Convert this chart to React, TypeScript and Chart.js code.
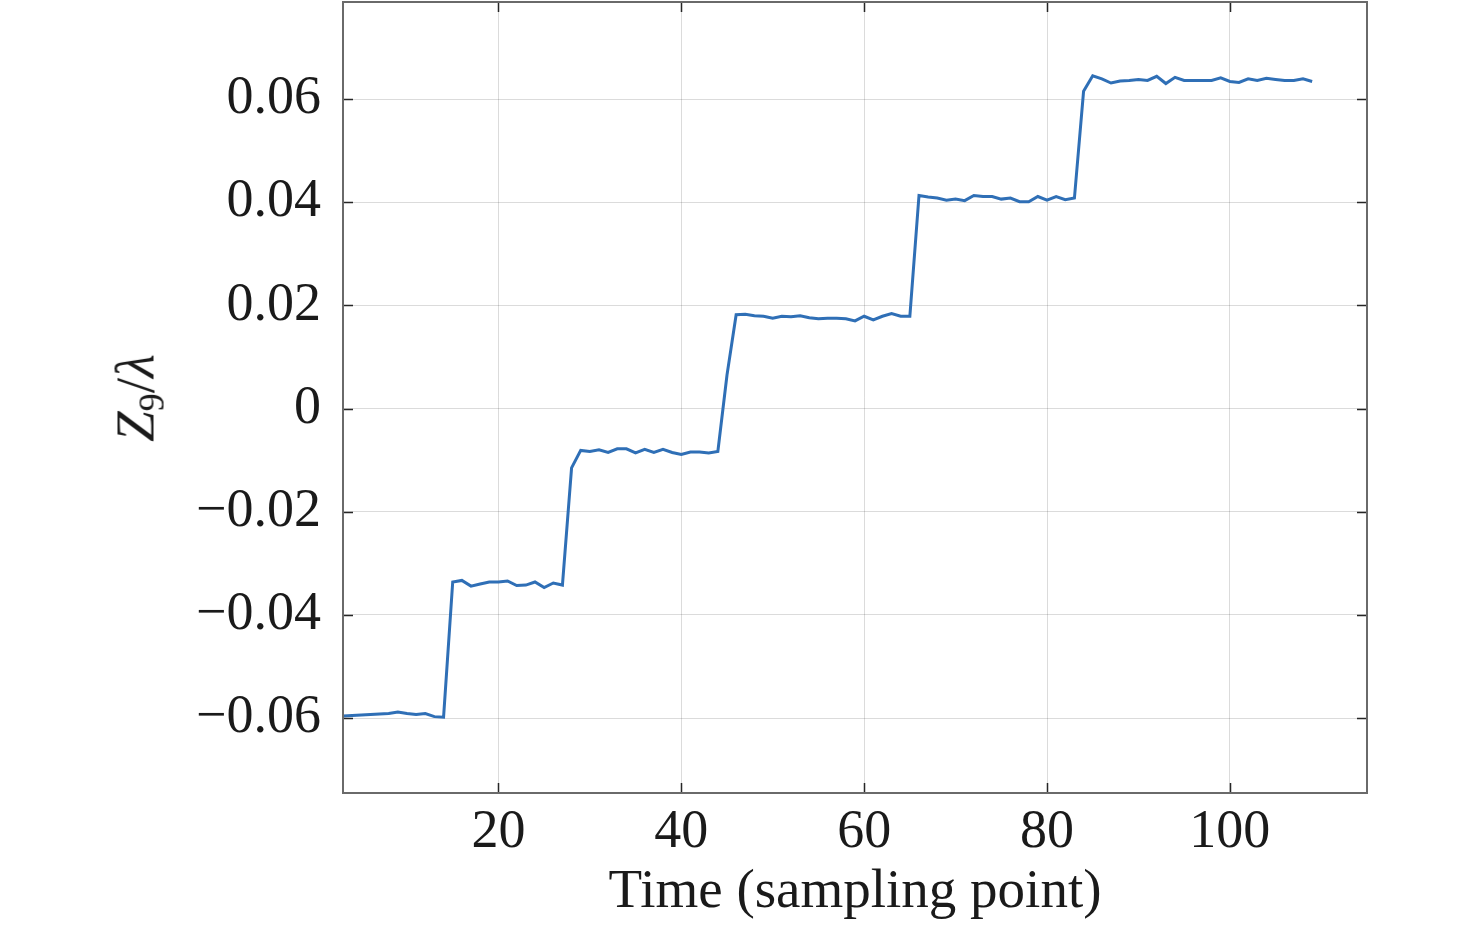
import { useEffect, useRef } from 'react';
import { Chart, registerables } from 'chart.js';

Chart.register(...registerables);

// sample index (x) and Z9/lambda reading (y)
const samplePoints = [
  3, 4, 5, 6, 7, 8, 9, 10, 11, 12, 13, 14, 15, 16, 17, 18, 19, 20,
  21, 22, 23, 24, 25, 26, 27, 28, 29, 30, 31, 32, 33, 34, 35, 36, 37, 38, 39, 40,
  41, 42, 43, 44, 45, 46, 47, 48, 49, 50, 51, 52, 53, 54, 55, 56, 57, 58, 59, 60,
  61, 62, 63, 64, 65, 66, 67, 68, 69, 70, 71, 72, 73, 74, 75, 76, 77, 78, 79, 80,
  81, 82, 83, 84, 85, 86, 87, 88, 89, 90, 91, 92, 93, 94, 95, 96, 97, 98, 99, 100,
  101, 102, 103, 104, 105, 106, 107, 108, 109,
];

const zValues = [
  -0.0596, -0.0595, -0.0594, -0.0593, -0.0592, -0.0591, -0.0588, -0.0591, -0.0593, -0.0591, -0.0597, -0.0598,
  -0.0336, -0.0333, -0.0344, -0.034, -0.0336, -0.0336, -0.0334, -0.0343, -0.0342, -0.0336, -0.0347, -0.0338, -0.0342,
  -0.0115, -0.0081, -0.0083, -0.008, -0.0085, -0.0078, -0.0078, -0.0086, -0.0079, -0.0085, -0.0079, -0.0085, -0.0089,
  -0.0084, -0.0084, -0.0086, -0.0083,
  0.0065, 0.0182, 0.0183, 0.018, 0.0179, 0.0175, 0.0179, 0.0178, 0.018, 0.0176, 0.0174, 0.0175, 0.0175, 0.0174,
  0.017, 0.0179, 0.0172, 0.0179, 0.0184, 0.0179, 0.0179,
  0.0413, 0.041, 0.0408, 0.0404, 0.0406, 0.0403, 0.0413, 0.0411, 0.0411, 0.0406, 0.0408, 0.0401, 0.0401, 0.0411,
  0.0404, 0.0411, 0.0405, 0.0408,
  0.0615, 0.0645, 0.0639, 0.0631, 0.0635, 0.0636, 0.0638, 0.0636, 0.0644, 0.063, 0.0642, 0.0636, 0.0636, 0.0636,
  0.0636, 0.0641, 0.0634, 0.0632, 0.0639, 0.0636, 0.064, 0.0638, 0.0636, 0.0636, 0.0639, 0.0634,
];

const xTicks = [20, 40, 60, 80, 100];
const yTicks = [-0.06, -0.04, -0.02, 0, 0.02, 0.04, 0.06];

const FONT = '"Liberation Serif", "Times New Roman", serif';
const LINE_COLOR = '#2f6fb6';

const fmtY = (v: number) => (v === 0 ? '0' : (v < 0 ? '\u2212' : '') + Math.abs(v).toFixed(2));

// MATLAB-style box with ticks pointing inward on all four sides
const boxPlugin = {
  id: 'box',
  afterDatasetsDraw(chart: any) {
    const { ctx, chartArea, scales } = chart;
    const { left, right, top, bottom } = chartArea;
    const len = 10;
    ctx.save();
    ctx.strokeStyle = '#262626';
    ctx.lineWidth = 1.5;
    ctx.beginPath();
    xTicks.forEach((v) => {
      const px = Math.round(scales.x.getPixelForValue(v)) + 0.5;
      ctx.moveTo(px, bottom);
      ctx.lineTo(px, bottom - len);
      ctx.moveTo(px, top);
      ctx.lineTo(px, top + len);
    });
    yTicks.forEach((v) => {
      const py = Math.round(scales.y.getPixelForValue(v)) + 0.5;
      ctx.moveTo(left, py);
      ctx.lineTo(left + len, py);
      ctx.moveTo(right, py);
      ctx.lineTo(right - len, py);
    });
    ctx.stroke();
    ctx.strokeStyle = '#6a6a6a';
    ctx.lineWidth = 2;
    ctx.strokeRect(left, top, right - left, bottom - top);
    ctx.restore();
  },
};

export default function App() {
  const canvasRef = useRef<HTMLCanvasElement>(null);
  const chartRef = useRef<Chart | null>(null);

  useEffect(() => {
    if (!canvasRef.current) return;
    if (chartRef.current) chartRef.current.destroy();

    chartRef.current = new Chart(canvasRef.current, {
      type: 'line',
      data: {
        labels: samplePoints,
        datasets: [
          {
            data: zValues,
            borderColor: LINE_COLOR,
            borderWidth: 3,
            pointRadius: 0,
            tension: 0,
            fill: false,
          },
        ],
      },
      options: {
        responsive: true,
        maintainAspectRatio: false,
        animation: false,
        layout: { padding: { top: 2, right: 109, left: 0, bottom: 0 } },
        plugins: { legend: { display: false }, tooltip: { enabled: false } },
        scales: {
          x: {
            type: 'linear',
            min: 3,
            max: 115,
            afterBuildTicks: (scale: any) => {
              scale.ticks = xTicks.map((value) => ({ value }));
            },
            afterFit: (scale: any) => {
              scale.height = 142;
              scale.paddingLeft = 0;
              scale.paddingRight = 0;
            },
            grid: { color: 'rgba(0,0,0,0.14)', lineWidth: 1, drawTicks: false },
            border: { display: false },
            ticks: {
              padding: 7,
              maxRotation: 0,
              color: '#1a1a1a',
              font: { family: FONT, size: 54 },
              callback: (v: any) => String(v),
            },
            title: {
              display: true,
              text: 'Time (sampling point)',
              color: '#1a1a1a',
              font: { family: FONT, size: 55 },
              padding: { top: 0, bottom: 9 },
            },
          },
          y: {
            min: -0.0745,
            max: 0.0788,
            afterBuildTicks: (scale: any) => {
              scale.ticks = yTicks.map((value) => ({ value }));
            },
            afterFit: (scale: any) => {
              scale.width = 343;
              scale.paddingTop = 0;
              scale.paddingBottom = 0;
            },
            grid: { color: 'rgba(0,0,0,0.14)', lineWidth: 1, drawTicks: false },
            border: { display: false },
            ticks: {
              padding: 22,
              color: '#1a1a1a',
              font: { family: FONT, size: 54 },
              callback: (v: any) => fmtY(Number(v)),
            },
          },
        },
      },
      plugins: [boxPlugin],
    });

    return () => {
      chartRef.current?.destroy();
      chartRef.current = null;
    };
  }, []);

  return (
    <div style={{ position: 'absolute', left: 0, top: 0, width: 1476, height: 935, background: '#fff' }}>
      <canvas ref={canvasRef} />
      <div
        style={{
          position: 'absolute',
          left: 135,
          top: 398,
          transform: 'translate(-50%, -50%) rotate(-90deg)',
          fontFamily: FONT,
          fontSize: 55,
          lineHeight: 1,
          color: '#1a1a1a',
          whiteSpace: 'nowrap',
        }}
      >
        <i>Z</i>
        <span style={{ fontSize: '0.66em', position: 'relative', top: '0.28em' }}>9</span>/<i>λ</i>
      </div>
    </div>
  );
}
